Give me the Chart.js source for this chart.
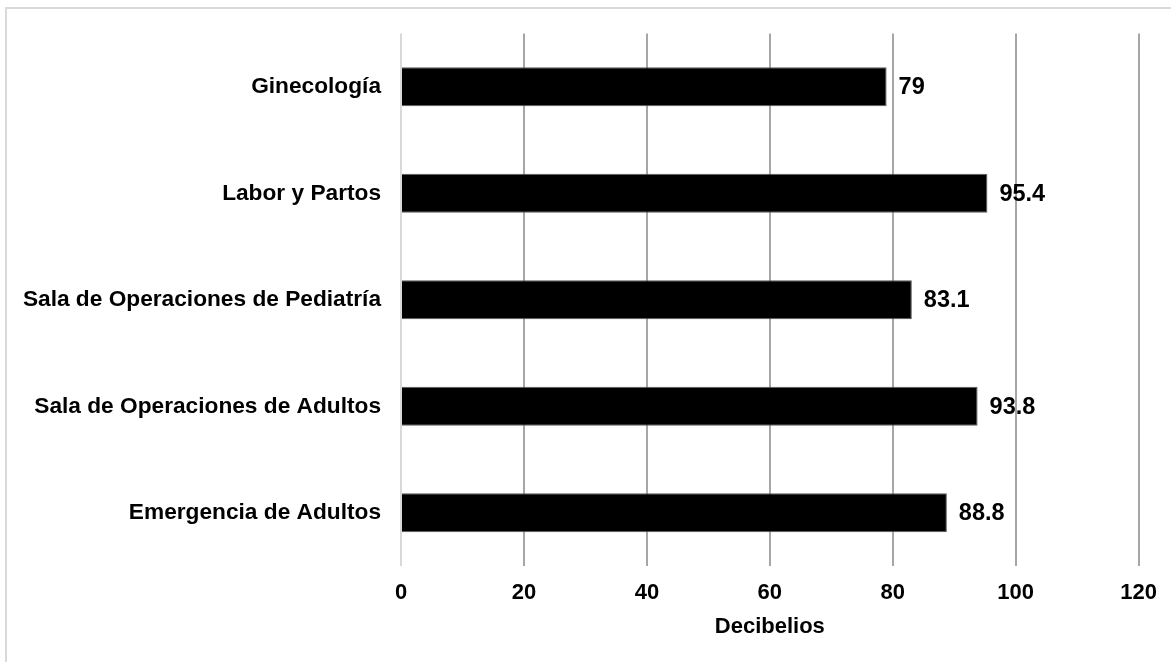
<!DOCTYPE html>
<html>
<head>
<meta charset="utf-8">
<script src="https://cdn.jsdelivr.net/npm/chart.js@4/dist/chart.umd.min.js"></script>
<style>
  html, body { margin: 0; padding: 0; background: #fff; overflow: hidden; }
  #wrap { position: relative; width: 1171px; height: 662px; }
  #frame { position: absolute; left: 5px; top: 7px; width: 1200px; height: 700px;
           border-left: 2px solid #d9d9d9; border-top: 2px solid #d9d9d9; box-sizing: border-box; }
  canvas { position: absolute; left: 0; top: 0; }
</style>
</head>
<body>
<div id="wrap">
  <div id="frame"></div>
  <canvas id="c" width="1171" height="662"></canvas>
</div>
<script>
// Noise levels per hospital area (decibels)
const categories = [
  'Ginecología',
  'Labor y Partos',
  'Sala de Operaciones de Pediatría',
  'Sala de Operaciones de Adultos',
  'Emergencia de Adultos'
];
const values = [79, 95.4, 83.1, 93.8, 88.8];
const xTicks = [0, 20, 40, 60, 80, 100, 120];
const axisTitle = 'Decibelios';

const FONT = "'Liberation Sans', Arial, sans-serif";

// Writes each bar's value just past its end
const valueLabels = {
  id: 'valueLabels',
  afterDatasetsDraw(chart) {
    const ctx = chart.ctx;
    const meta = chart.getDatasetMeta(0);
    ctx.save();
    ctx.font = 'bold 23.5px ' + FONT;
    ctx.fillStyle = '#000';
    ctx.textAlign = 'left';
    ctx.textBaseline = 'middle';
    meta.data.forEach((bar, i) => {
      ctx.fillText(String(values[i]), bar.x + 12, bar.y + 1);
    });
    ctx.restore();
  }
};

new Chart(document.getElementById('c'), {
  type: 'bar',
  data: {
    labels: categories,
    datasets: [{
      data: values,
      backgroundColor: '#000',
      borderColor: '#595959',
      borderWidth: 1,
      categoryPercentage: 1,
      barPercentage: 0.366
    }]
  },
  options: {
    indexAxis: 'y',
    responsive: false,
    animation: false,
    devicePixelRatio: 1,
    layout: { padding: { top: 33, right: 32, left: 0, bottom: 0 } },
    plugins: {
      legend: { display: false },
      tooltip: { enabled: false }
    },
    scales: {
      x: {
        min: xTicks[0],
        max: xTicks[xTicks.length - 1],
        afterBuildTicks(scale) { scale.ticks = xTicks.map(v => ({ value: v })); },
        grid: {
          color: ctx => (ctx.tick && ctx.tick.value === 0) ? '#d9d9d9' : '#a6a6a6',
          lineWidth: 2,
          drawTicks: false
        },
        border: { display: false },
        ticks: {
          padding: 14,
          color: '#000',
          font: { family: FONT, size: 22, weight: 'bold' }
        },
        title: {
          display: true,
          text: axisTitle,
          color: '#000',
          font: { family: FONT, size: 22, weight: 'bold' },
          padding: { top: 10, bottom: 22 }
        },
        afterFit(scale) { scale.height = 96; }
      },
      y: {
        grid: { display: false, drawTicks: false },
        border: { display: false },
        ticks: {
          padding: 20,
          color: '#000',
          font: { family: FONT, size: 22.7, weight: 'bold' }
        },
        afterFit(scale) { scale.width = 401; }
      }
    }
  },
  plugins: [valueLabels]
});
</script>
</body>
</html>
